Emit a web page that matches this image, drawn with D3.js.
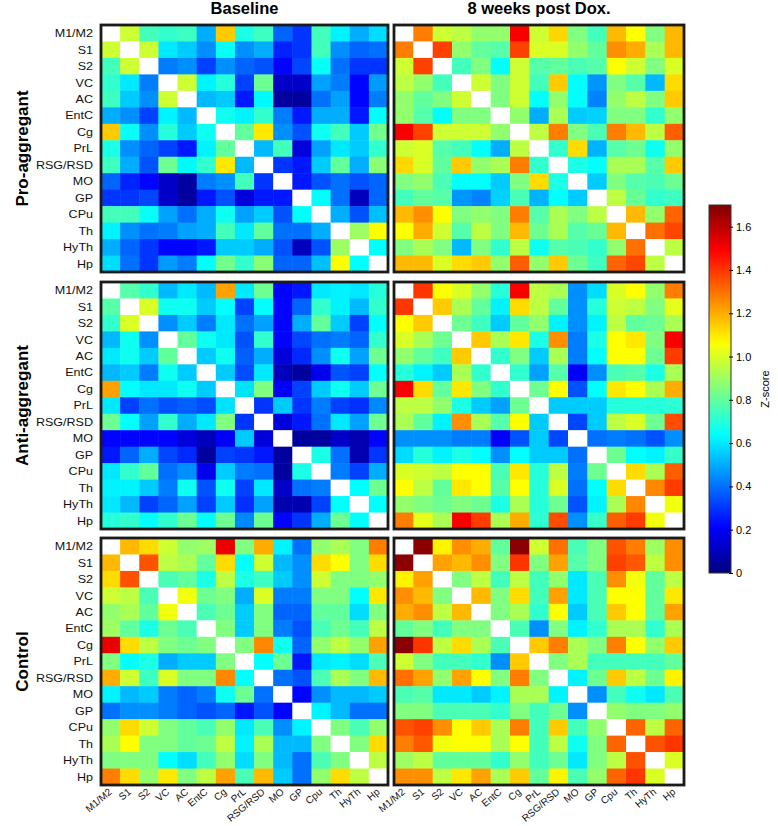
<!DOCTYPE html>
<html><head><meta charset="utf-8">
<script src="https://cdn.jsdelivr.net/npm/d3@7/dist/d3.min.js"></script>
<style>body{margin:0;background:#fff;font-family:"Liberation Sans",Arial,sans-serif}</style>
</head><body><svg id="c" width="778" height="826"></svg>
<script>
const rowLabels = ["M1/M2","S1","S2","VC","AC","EntC","Cg","PrL","RSG/RSD","MO","GP","CPu","Th","HyTh","Hp"];
const colLabels = ["M1/M2","S1","S2","VC","AC","EntC","Cg","PrL","RSG/RSD","MO","GP","Cpu","Th","HyTh","Hp"];
const columnTitles = ["Baseline","8 weeks post Dox."];
const groupTitles = ["Pro-aggregant","Anti-aggregant","Control"];
const colorTicks = [0,0.2,0.4,0.6,0.8,1.0,1.2,1.4,1.6];
const zMax = 1.7;

// lower triangles (row r, columns 0..r-1); matrices are symmetric, diagonal empty
const proBaseline = [
 [],
 [0.98],
 [0.75,0.98],
 [0.72,0.60,0.42],
 [0.74,0.55,0.45,0.98],
 [0.50,0.45,0.32,0.62,0.52],
 [1.15,0.65,0.45,0.70,0.55,0.66],
 [0.68,0.45,0.38,0.32,0.25,0.62,0.80],
 [0.74,0.50,0.35,0.82,0.63,0.72,1.10,0.52],
 [0.38,0.27,0.22,0.12,0.05,0.42,0.45,0.75,0.30],
 [0.30,0.30,0.33,0.12,0.05,0.25,0.35,0.15,0.25,0.25],
 [0.75,0.75,0.65,0.48,0.40,0.50,0.66,0.48,0.55,0.35,0.64],
 [0.62,0.45,0.40,0.42,0.48,0.50,0.75,0.60,0.80,0.40,0.40,0.50],
 [0.50,0.38,0.30,0.22,0.22,0.25,0.55,0.55,0.50,0.35,0.10,0.35,0.90],
 [0.58,0.40,0.30,0.47,0.42,0.64,0.83,0.72,0.87,0.38,0.38,0.53,1.06,0.64]
];
const proPost = [
 [],
 [1.28],
 [0.98,1.38],
 [0.95,0.88,0.75],
 [0.88,0.80,0.85,0.98],
 [0.88,0.78,0.64,0.85,0.85],
 [1.50,1.38,0.98,0.98,0.98,0.88],
 [0.98,1.00,0.78,0.75,0.64,0.50,0.95],
 [1.13,1.00,0.80,1.15,0.88,0.92,1.28,0.72],
 [0.85,0.88,0.76,0.64,0.64,0.55,0.85,1.12,0.68],
 [0.75,0.80,0.78,0.46,0.43,0.56,0.76,0.51,0.64,0.55],
 [1.18,1.25,1.06,0.85,0.88,0.85,1.28,0.78,0.92,0.85,0.95],
 [1.06,1.20,0.98,0.78,0.95,0.85,1.18,0.82,0.92,0.78,0.81,1.18],
 [0.85,0.92,0.85,0.52,0.85,0.72,0.95,0.66,0.78,0.76,0.72,0.88,1.30],
 [1.18,1.18,1.00,1.12,1.15,0.88,1.33,0.88,1.15,0.82,0.74,1.32,1.37,0.95]
];
const antiBaseline = [
 [],
 [0.78],
 [0.72,1.00],
 [0.52,0.66,0.45],
 [0.60,0.66,0.55,0.80],
 [0.52,0.55,0.42,0.66,0.55],
 [1.22,0.64,0.60,0.60,0.66,0.55],
 [0.60,0.32,0.40,0.35,0.37,0.34,0.59],
 [0.82,0.64,0.48,0.72,0.50,0.60,0.85,0.30],
 [0.22,0.22,0.22,0.22,0.15,0.10,0.20,0.55,0.15],
 [0.25,0.38,0.50,0.33,0.28,0.05,0.32,0.30,0.25,0.05],
 [0.60,0.72,0.80,0.40,0.45,0.18,0.55,0.42,0.40,0.05,0.68],
 [0.62,0.62,0.55,0.42,0.66,0.35,0.66,0.32,0.60,0.12,0.40,0.42],
 [0.60,0.52,0.32,0.38,0.48,0.32,0.55,0.29,0.48,0.08,0.08,0.32,0.64],
 [0.70,0.72,0.64,0.72,0.82,0.64,0.82,0.44,0.82,0.22,0.30,0.50,0.82,0.64]
];
const antiPost = [
 [],
 [1.40],
 [1.06,1.15],
 [1.00,0.92,0.82],
 [0.88,0.80,0.74,1.15],
 [0.70,0.62,0.55,0.92,0.72],
 [1.50,1.12,0.80,1.10,0.85,0.72],
 [0.95,0.95,0.88,0.68,0.55,0.48,0.82],
 [0.92,0.80,0.62,1.25,0.92,0.78,1.06,0.55],
 [0.45,0.45,0.45,0.42,0.42,0.20,0.35,0.55,0.33],
 [0.58,0.70,0.62,0.68,0.64,0.45,0.64,0.55,0.55,0.40],
 [1.00,0.98,0.95,1.06,1.06,0.76,1.10,0.70,0.95,0.42,0.82],
 [1.06,0.95,0.80,1.10,1.06,0.78,1.06,0.70,1.00,0.40,0.64,1.12],
 [0.88,0.85,0.82,0.85,0.82,0.68,0.92,0.70,0.82,0.35,0.62,0.92,1.26],
 [1.28,1.02,0.92,1.50,1.39,0.92,1.20,0.71,1.36,0.45,0.73,1.33,1.39,1.04]
];
const ctrlBaseline = [
 [],
 [1.18],
 [1.12,1.35],
 [0.98,0.95,0.76],
 [0.88,0.92,0.80,1.04],
 [0.90,0.80,0.68,0.82,0.76],
 [1.52,1.12,0.95,0.85,0.82,0.85],
 [0.85,0.64,0.68,0.50,0.55,0.55,0.85],
 [1.20,0.98,0.74,1.00,0.85,0.85,1.26,0.64],
 [0.62,0.52,0.55,0.42,0.38,0.42,0.66,0.82,0.40],
 [0.40,0.45,0.45,0.42,0.38,0.35,0.38,0.25,0.35,0.22],
 [0.88,1.12,0.98,0.85,0.80,0.76,0.88,0.60,0.76,0.45,0.62],
 [0.92,1.06,0.85,0.85,0.80,0.82,0.95,0.62,0.92,0.52,0.52,0.85],
 [0.85,0.85,0.85,0.64,0.58,0.75,0.88,0.58,0.85,0.52,0.40,0.76,0.85],
 [1.28,1.12,0.88,1.10,0.85,0.95,1.22,0.76,1.18,0.55,0.40,0.88,1.12,0.95]
];
const ctrlPost = [
 [],
 [1.68],
 [1.08,1.22],
 [1.25,1.18,0.85],
 [1.20,1.25,0.95,1.18],
 [0.80,0.85,0.75,0.85,0.85],
 [1.68,1.40,0.95,1.12,0.92,0.76],
 [0.98,0.85,0.75,0.75,0.72,0.45,1.15],
 [1.30,1.22,0.88,1.22,1.06,0.85,1.28,0.85],
 [0.76,0.78,0.60,0.60,0.55,0.62,0.92,0.92,0.62],
 [0.85,0.85,0.76,0.76,0.76,0.72,0.85,0.75,0.82,0.45],
 [1.35,1.38,1.25,1.06,1.15,0.92,1.28,0.75,1.15,0.75,0.88],
 [1.28,1.34,1.04,1.06,1.06,0.92,1.06,0.75,0.95,0.66,0.85,1.32],
 [0.90,0.95,0.80,0.80,0.80,0.72,0.88,0.75,0.82,0.60,0.85,0.95,1.35],
 [1.25,1.25,0.95,1.10,1.22,0.92,1.15,0.80,1.08,0.76,0.88,1.32,1.40,1.00]
];
const panelData = [[proBaseline,proPost],[antiBaseline,antiPost],[ctrlBaseline,ctrlPost]];

function jet(v){
  const t = Math.max(0, Math.min(1, v / zMax));
  const c = x => Math.round(255*Math.max(0, Math.min(1, x)));
  return `rgb(${c(1.5-Math.abs(4*t-3))},${c(1.5-Math.abs(4*t-2))},${c(1.5-Math.abs(4*t-1))})`;
}
function valueAt(tri, r, c){
  if (r === c) return null;
  return r > c ? tri[r][c] : tri[c][r];
}

const svg = d3.select("#c");
const font = '"Liberation Sans",Arial,sans-serif';
const colRanges = [[101,388],[394,684]];
const rowRanges = [[25,272],[282,529],[538,785]];
const idx = d3.range(rowLabels.length);

rowRanges.forEach((yr, gi) => {
  const y = d3.scaleBand().domain(idx).range(yr);
  colRanges.forEach((xr, ci) => {
    const x = d3.scaleBand().domain(idx).range(xr);
    const tri = panelData[gi][ci];
    const cells = [];
    idx.forEach(r => idx.forEach(c => cells.push({r, c, v: valueAt(tri, r, c)})));
    const g = svg.append("g");
    g.selectAll("rect.cell").data(cells).join("rect")
      .attr("class","cell")
      .attr("x", d => x(d.c)).attr("y", d => y(d.r))
      .attr("width", x.bandwidth()+0.5).attr("height", y.bandwidth()+0.5)
      .attr("fill", d => d.v === null ? "#ffffff" : jet(d.v));
    g.append("rect").attr("x", xr[0]).attr("y", yr[0])
      .attr("width", xr[1]-xr[0]).attr("height", yr[1]-yr[0])
      .attr("fill","none").attr("stroke","#1a1a1a").attr("stroke-width",2.8);
    if (ci === 0) {
      svg.append("g").selectAll("text").data(rowLabels).join("text")
        .attr("transform", (d,i) => `translate(93,${y(i)+y.bandwidth()/2}) scale(1.12,1)`)
        .attr("dy","0.35em").attr("text-anchor","end")
        .attr("font-family", font).attr("font-size", 11.2).attr("fill","#111").text(d => d);
    }
    if (gi === rowRanges.length-1) {
      svg.append("g").selectAll("text").data(colLabels).join("text")
        .attr("transform", (d,i) => `translate(${x(i)+x.bandwidth()/2+2},${yr[1]+8}) rotate(-40)`)
        .attr("text-anchor","end")
        .attr("font-family", font).attr("font-size", 10).attr("fill","#111").text(d => d);
    }
    if (gi === 0) {
      svg.append("text").attr("x", (xr[0]+xr[1])/2).attr("y", 14)
        .attr("text-anchor","middle").attr("font-family", font)
        .attr("font-weight","bold").attr("font-size", 16.5).text(columnTitles[ci]);
    }
  });
  svg.append("text")
    .attr("transform", `translate(28,${(yr[0]+yr[1])/2}) rotate(-90)`)
    .attr("text-anchor","middle").attr("font-family", font)
    .attr("font-weight","bold").attr("font-size", 17).text(groupTitles[gi]);
});

// colorbar
const cbX = 709, cbW = 22, cbTop = 205, cbBot = 573;
const cy = d3.scaleLinear().domain([0, zMax]).range([cbBot, cbTop]);
const defs = svg.append("defs");
const grad = defs.append("linearGradient").attr("id","jetg").attr("x1",0).attr("y1",1).attr("x2",0).attr("y2",0);
d3.range(0, 1.0001, 0.02).forEach(t => grad.append("stop").attr("offset", t).attr("stop-color", jet(t*zMax)));
svg.append("rect").attr("x", cbX).attr("y", cbTop).attr("width", cbW).attr("height", cbBot-cbTop)
  .attr("fill","url(#jetg)").attr("stroke","#333").attr("stroke-width",1);
const axis = d3.axisRight(cy).tickValues(colorTicks).tickSize(4)
  .tickFormat(d => d === 0 ? "0" : d3.format(".1f")(d));
const ag = svg.append("g").attr("transform", `translate(${cbX+cbW-2},0)`).call(axis);
ag.select(".domain").remove();
ag.selectAll("text").attr("font-family", font).attr("font-size", 11).attr("x", 7);
svg.append("text").attr("transform", `translate(769,${(cbTop+cbBot)/2}) rotate(-90)`)
  .attr("text-anchor","middle").attr("font-family", font).attr("font-size", 11).text("Z-score");
</script></body></html>
